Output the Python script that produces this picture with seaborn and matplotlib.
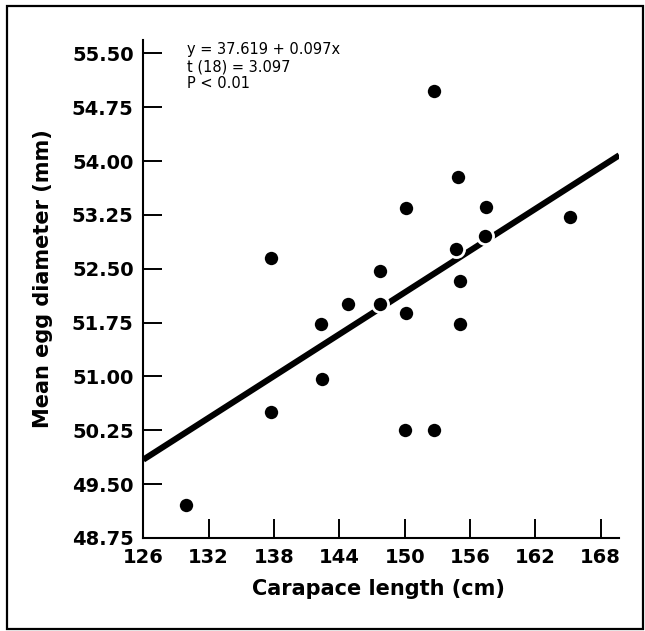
import numpy as np
import pandas as pd
import matplotlib
matplotlib.use("Agg")
import matplotlib.pyplot as plt
import seaborn as sns
from matplotlib.patches import Rectangle

# Data
carapace_cm = [129.9, 137.7, 137.7, 142.3, 142.4, 144.8, 147.7, 147.7, 150.1, 150.1,
               150.0, 152.7, 152.7, 154.9, 154.7, 155.1, 155.1, 157.5, 157.4, 165.2]
egg_mm = [49.21, 52.65, 50.51, 51.73, 50.97, 52.01, 52.47, 52.01, 53.35, 51.88,
          50.25, 50.25, 54.98, 53.78, 52.78, 52.33, 51.73, 53.36, 52.95, 53.22]

# Regression reported on the chart
intercept = 37.619
slope = 0.097

x_ticks = [126, 132, 138, 144, 150, 156, 162, 168]
y_ticks = [48.75, 49.50, 50.25, 51.00, 51.75, 52.50, 53.25, 54.00, 54.75, 55.50]
x_range = (126, 169.7)
y_range = (48.75, 55.685)

df = pd.DataFrame({"Carapace": carapace_cm, "Egg": egg_mm})

sns.set_style("ticks")
plt.rcParams["font.family"] = ["DejaVu Sans"]
plt.rcParams["text.color"] = "black"
plt.rcParams["axes.labelcolor"] = "black"

fig = plt.figure(figsize=(6.45, 6.31), dpi=100)
ax = fig.add_axes([0.2222, 0.1474, 0.7378, 0.7892])

# regression line from the reported equation
line_x = np.array(x_range)
line_df = pd.DataFrame({"x": line_x, "y": intercept + slope * line_x})
sns.lineplot(data=line_df, x="x", y="y", ax=ax, color="black", linewidth=4.4,
             zorder=2, solid_capstyle="butt")

sns.scatterplot(data=df, x="Carapace", y="Egg", ax=ax, color="black", s=135,
                edgecolor="white", linewidth=2.0, zorder=3)

ax.set_xlim(*x_range)
ax.set_ylim(*y_range)
ax.set_xticks(x_ticks)
ax.set_yticks(y_ticks)
ax.set_xticklabels([str(t) for t in x_ticks])
ax.set_yticklabels([f"{t:.2f}" for t in y_ticks])
ax.tick_params(direction="in", length=14, width=1.4, pad=7, labelsize=14,
               colors="black")
for lbl in ax.get_xticklabels() + ax.get_yticklabels():
    lbl.set_fontweight("bold")

sns.despine(ax=ax)
for side in ["left", "bottom"]:
    ax.spines[side].set_linewidth(1.5)
    ax.spines[side].set_color("black")

ax.set_xlabel("Carapace length (cm)", fontsize=15, fontweight="bold", color="black")
ax.set_ylabel("Mean egg diameter (mm)", fontsize=15, fontweight="bold", color="black")
ax.xaxis.set_label_coords(0.495, -0.082)
ax.yaxis.set_label_coords(-0.19, 0.52)

ax.text(0.092, 0.995, "y = 37.619 + 0.097x\nt (18) = 3.097\nP < 0.01",
        transform=ax.transAxes, ha="left", va="top", fontsize=10.5,
        linespacing=1.15, color="black")

# outer frame around the whole figure
fig.patches.append(Rectangle((0.011, 0.003), 0.986, 0.9875, transform=fig.transFigure,
                             fill=False, edgecolor="black", linewidth=1.6))

fig.savefig("out.png", dpi=100)
